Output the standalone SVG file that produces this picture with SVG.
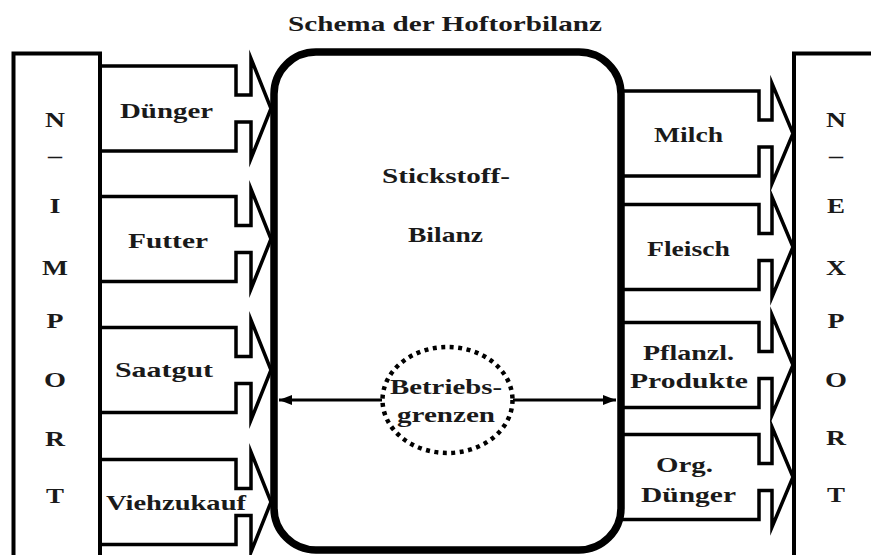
<svg xmlns="http://www.w3.org/2000/svg" width="871" height="555" viewBox="0 0 871 555">
<style>
  .t { font-family: "Liberation Serif", "Times New Roman", serif; font-weight: bold; font-size: 22px; fill: #1a1a1a; }
  .box { fill: #fff; stroke: #000; stroke-width: 4; }
  .flow { fill: #fff; stroke: #000; stroke-width: 3.5; stroke-linejoin: miter; stroke-miterlimit: 10; }
  .line { stroke: #000; stroke-width: 3; fill: none; }
</style>
<defs>
  <path id="inArrow" d="M100,-42.5 H236 V-13.5 H251 V-50 L271,0 L251,50 V13.5 H236 V42.5 H100"/>
  <path id="outArrow" d="M621,-42.5 H759 V-13.5 H772 V-50 L793,0 L772,50 V13.5 H759 V42.5 H621"/>
  <marker id="head" markerUnits="userSpaceOnUse" markerWidth="14" markerHeight="12" refX="13" refY="6" orient="auto">
    <path d="M0,1 L13,6 L0,11 Z" fill="#000"/>
  </marker>
</defs>
<rect width="871" height="555" fill="#fff"/>

<g id="title">
  <text class="t" x="288" y="30.5" textLength="314" lengthAdjust="spacingAndGlyphs">Schema der Hoftorbilanz</text>
</g>

<g id="connectors">
  <g id="flow-duenger-in">
    <use href="#inArrow" class="flow" transform="translate(0,108.5)"/>
    <text class="t" x="120" y="118" textLength="93" lengthAdjust="spacingAndGlyphs">Dünger</text>
  </g>
  <g id="flow-futter">
    <use href="#inArrow" class="flow" transform="translate(0,239)"/>
    <text class="t" x="128" y="248" textLength="80" lengthAdjust="spacingAndGlyphs">Futter</text>
  </g>
  <g id="flow-saatgut">
    <use href="#inArrow" class="flow" transform="translate(0,370)"/>
    <text class="t" x="115" y="377" textLength="98" lengthAdjust="spacingAndGlyphs">Saatgut</text>
  </g>
  <g id="flow-viehzukauf">
    <use href="#inArrow" class="flow" transform="translate(0,502)"/>
    <text class="t" x="106" y="510" textLength="140" lengthAdjust="spacingAndGlyphs">Viehzukauf</text>
  </g>
  <g id="flow-milch">
    <use href="#outArrow" class="flow" transform="translate(0,133.5)"/>
    <text class="t" x="654" y="142" textLength="69" lengthAdjust="spacingAndGlyphs">Milch</text>
  </g>
  <g id="flow-fleisch">
    <use href="#outArrow" class="flow" transform="translate(0,247)"/>
    <text class="t" x="647" y="256" textLength="83" lengthAdjust="spacingAndGlyphs">Fleisch</text>
  </g>
  <g id="flow-pflanzl">
    <use href="#outArrow" class="flow" transform="translate(0,365)"/>
    <text class="t" x="643" y="360" textLength="91" lengthAdjust="spacingAndGlyphs">Pflanzl.</text>
    <text class="t" x="630" y="388" textLength="118" lengthAdjust="spacingAndGlyphs">Produkte</text>
  </g>
  <g id="flow-orgduenger">
    <use href="#outArrow" class="flow" transform="translate(0,477)"/>
    <text class="t" x="656" y="472" textLength="57" lengthAdjust="spacingAndGlyphs">Org.</text>
    <text class="t" x="641" y="502" textLength="95" lengthAdjust="spacingAndGlyphs">Dünger</text>
  </g>
  <line id="grenze-links" class="line" x1="382" y1="400" x2="279" y2="400" marker-end="url(#head)"/>
  <line id="grenze-rechts" class="line" x1="513" y1="400" x2="616" y2="400" marker-end="url(#head)"/>
</g>

<g id="import">
  <rect class="box" x="13.5" y="53.5" width="86.5" height="510"/>
  <text class="t" x="45" y="127" textLength="20" lengthAdjust="spacingAndGlyphs">N</text>
  <text class="t" x="48" y="163" textLength="14" lengthAdjust="spacingAndGlyphs">–</text>
  <text class="t" x="49.5" y="213" textLength="11" lengthAdjust="spacingAndGlyphs">I</text>
  <text class="t" x="42" y="275" textLength="26" lengthAdjust="spacingAndGlyphs">M</text>
  <text class="t" x="46.5" y="328" textLength="17" lengthAdjust="spacingAndGlyphs">P</text>
  <text class="t" x="44" y="387" textLength="22" lengthAdjust="spacingAndGlyphs">O</text>
  <text class="t" x="45" y="446" textLength="20" lengthAdjust="spacingAndGlyphs">R</text>
  <text class="t" x="46" y="503" textLength="18" lengthAdjust="spacingAndGlyphs">T</text>
</g>

<g id="export">
  <rect class="box" x="794" y="53.5" width="100" height="510"/>
  <text class="t" x="826" y="127" textLength="20" lengthAdjust="spacingAndGlyphs">N</text>
  <text class="t" x="829" y="163" textLength="14" lengthAdjust="spacingAndGlyphs">–</text>
  <text class="t" x="827" y="213" textLength="18" lengthAdjust="spacingAndGlyphs">E</text>
  <text class="t" x="826" y="275" textLength="20" lengthAdjust="spacingAndGlyphs">X</text>
  <text class="t" x="827.5" y="328" textLength="17" lengthAdjust="spacingAndGlyphs">P</text>
  <text class="t" x="825" y="387" textLength="22" lengthAdjust="spacingAndGlyphs">O</text>
  <text class="t" x="826" y="445" textLength="20" lengthAdjust="spacingAndGlyphs">R</text>
  <text class="t" x="827" y="502" textLength="18" lengthAdjust="spacingAndGlyphs">T</text>
</g>

<g id="bilanz">
  <rect x="274" y="52" width="347" height="498" rx="42" ry="42" fill="none" stroke="#000" stroke-width="7.5"/>
  <text class="t" x="382" y="183" textLength="128" lengthAdjust="spacingAndGlyphs">Stickstoff-</text>
  <text class="t" x="408" y="242" textLength="75" lengthAdjust="spacingAndGlyphs">Bilanz</text>
</g>

<g id="betriebsgrenzen">
  <ellipse cx="447.5" cy="400" rx="65" ry="53" fill="none" stroke="#000" stroke-width="4.5" stroke-dasharray="4 4.5"/>
  <text class="t" x="390" y="394" textLength="112" lengthAdjust="spacingAndGlyphs">Betriebs-</text>
  <text class="t" x="397" y="422" textLength="98" lengthAdjust="spacingAndGlyphs">grenzen</text>
</g>
</svg>
